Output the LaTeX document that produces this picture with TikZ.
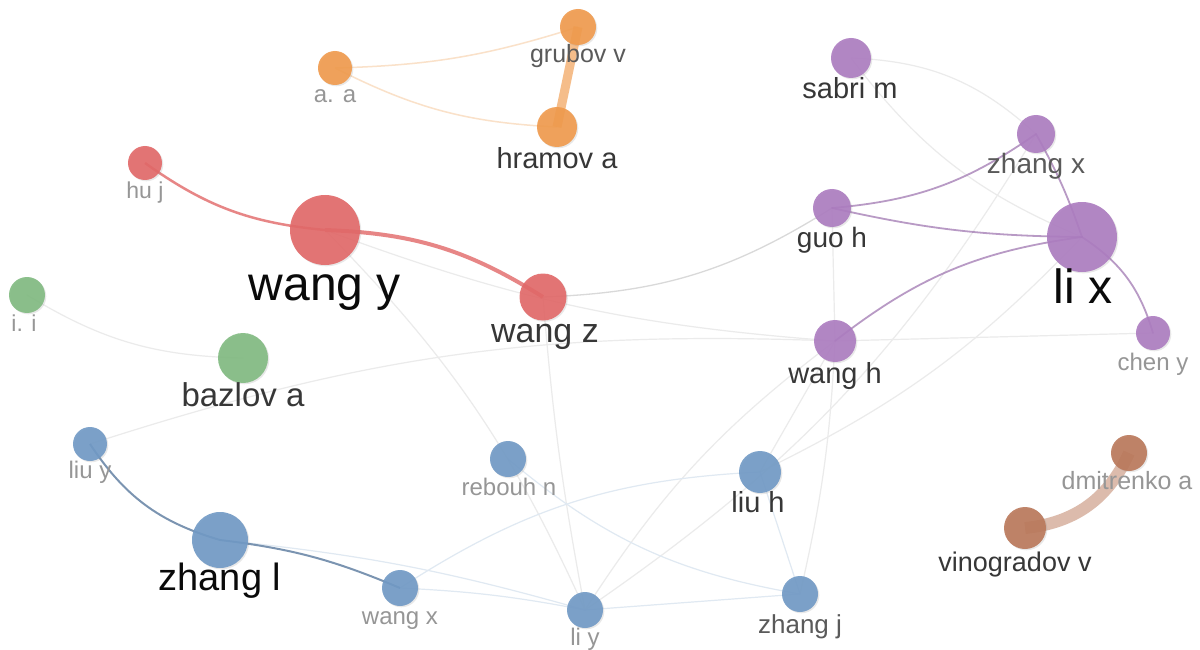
\documentclass[tikz,border=0pt]{standalone}
\usepackage{fontspec}
\newfontfamily\lblfont{Liberation Sans}
\usetikzlibrary{backgrounds,shadows}
\definecolor{cred}{RGB}{226,104,104}
\definecolor{cgreen}{RGB}{128,186,128}
\definecolor{cblue}{RGB}{112,153,197}
\definecolor{cpurple}{RGB}{172,124,192}
\definecolor{corange}{RGB}{240,154,76}
\definecolor{cbrown}{RGB}{186,120,90}
\definecolor{lbig}{RGB}{10,10,10}
\definecolor{lmid}{RGB}{55,55,55}
\definecolor{lgray}{RGB}{90,90,90}
\definecolor{llight}{RGB}{150,150,150}
\tikzset{
  vnode/.style={circle, inner sep=0pt, minimum size=#1, draw=none, fill opacity=0.9,
    drop shadow={shadow xshift=1.3pt, shadow yshift=-1.3pt, opacity=0.18}},
  lbl/.style={anchor=base, inner sep=0pt},
  fsz/.style={font=\lblfont\fontsize{#1}{#1}\selectfont},
  faint/.style={line width=1.2pt, draw=gray!16, line cap=round},
  faintb/.style={line width=1.2pt, draw=cblue!22, line cap=round},
  pedge/.style={line width=1.8pt, draw=cpurple!90!black, draw opacity=0.7, line cap=round},
}
\begin{document}
\begin{tikzpicture}[x=1pt,y=-1pt]
\useasboundingbox (0,0) rectangle (1200,650);
% ---- nodes ----
\node[vnode=34pt, fill=corange] (aa) at (335,68) {};
\node[vnode=36pt, fill=corange] (gv) at (578,27) {};
\node[vnode=40pt, fill=corange] (ha) at (557,127) {};
\node[vnode=34pt, fill=cred] (hj) at (145,163) {};
\node[vnode=70pt, fill=cred] (wy) at (325,230) {};
\node[vnode=47pt, fill=cred] (wz) at (543,297) {};
\node[vnode=36pt, fill=cgreen] (ii) at (27,295) {};
\node[vnode=50pt, fill=cgreen] (ba) at (243,358) {};
\node[vnode=34pt, fill=cblue] (ly) at (90,444) {};
\node[vnode=56pt, fill=cblue] (zl) at (220,540) {};
\node[vnode=36pt, fill=cblue] (wx) at (400,588) {};
\node[vnode=36pt, fill=cblue] (liy) at (585,610) {};
\node[vnode=36pt, fill=cblue] (rn) at (508,459) {};
\node[vnode=42pt, fill=cblue] (lh) at (760,472) {};
\node[vnode=36pt, fill=cblue] (zj) at (800,594) {};
\node[vnode=40pt, fill=cpurple] (sm) at (851,58) {};
\node[vnode=38pt, fill=cpurple] (zx) at (1036,134) {};
\node[vnode=38pt, fill=cpurple] (gh) at (832,208) {};
\node[vnode=70pt, fill=cpurple] (lx) at (1082,237) {};
\node[vnode=42pt, fill=cpurple] (wh) at (835,341) {};
\node[vnode=34pt, fill=cpurple] (cy) at (1153,333) {};
\node[vnode=36pt, fill=cbrown] (da) at (1129,453) {};
\node[vnode=42pt, fill=cbrown] (vv) at (1025,528) {};
% ---- labels ----
\node[lbl, fsz=24, text=llight] (aaL) at (335,103) {a. a};
\node[lbl, fsz=25, text=lgray] (gvL) at (578,63) {grubov v};
\node[lbl, fsz=29, text=lmid] (haL) at (557,168) {hramov a};
\node[lbl, fsz=23, text=llight] (hjL) at (145,198) {hu j};
\node[lbl, fsz=48, text=lbig] (wyL) at (325,300) {wang y};
\node[lbl, fsz=34, text=lmid] (wzL) at (545,342) {wang z};
\node[lbl, fsz=23, text=llight] (iiL) at (24,331) {i. i};
\node[lbl, fsz=33, text=lmid] (baL) at (243,406) {bazlov a};
\node[lbl, fsz=24, text=llight] (lyL) at (90,478) {liu y};
\node[lbl, fsz=38, text=lbig] (zlL) at (220,590) {zhang l};
\node[lbl, fsz=24, text=llight] (wxL) at (400,624) {wang x};
\node[lbl, fsz=24, text=llight] (liyL) at (585,645) {li y};
\node[lbl, fsz=24, text=llight] (rnL) at (509,495) {rebouh n};
\node[lbl, fsz=29, text=lmid] (lhL) at (758,512) {liu h};
\node[lbl, fsz=26, text=lgray] (zjL) at (800,633) {zhang j};
\node[lbl, fsz=29, text=lmid] (smL) at (850,99) {sabri m};
\node[lbl, fsz=28, text=lgray] (zxL) at (1036,174) {zhang x};
\node[lbl, fsz=28, text=lmid] (ghL) at (832,247) {guo h};
\node[lbl, fsz=48, text=lbig] (lxL) at (1083,303) {li x};
\node[lbl, fsz=29, text=lmid] (whL) at (835,383) {wang h};
\node[lbl, fsz=24, text=llight] (cyL) at (1153,370) {chen y};
\node[lbl, fsz=25, text=llight] (daL) at (1127,489) {dmitrenko a};
\node[lbl, fsz=27, text=lmid] (vvL) at (1015,571) {vinogradov v};
% ---- edges ----
\begin{pgfonlayer}{background}
\fill[white] (0,0) rectangle (1200,650);
% faint cross-cluster links
\draw[faint] (ii.center) to[bend right=15] (ba.center);
\draw[faint] (ly.center) to[bend left=10] (wh.center);
\draw[faint] (wh.center) -- (cy.center);
\draw[faint] (wy.center) to[bend right=8] (wh.center);
\draw[faint] (wy.center) to[bend left=10] (liy.center);
\draw[faint] (wz.center) to[bend right=3] (liy.center);
\draw[line width=1.3pt, draw=gray!30, line cap=round] (wz.center) to[bend right=15] (gh.center);
\draw[faint] (gh.center) -- (wh.center);
\draw[faint] (wh.center) to[bend left=5] (zj.center);
\draw[faint] (wh.center) -- (lh.center);
\draw[faint] (wh.center) to[bend right=10] (liy.center);
\draw[faint] (liy.center) to[bend right=12] (zx.center);
\draw[faint] (lh.center) to[bend right=10] (lx.center);
\draw[faint] (sm.center) to[bend left=20] (zx.center);
\draw[faint] (sm.center) to[bend right=15] (lx.center);
% blue cluster
\draw[faintb] (zl.center) to[bend left=5] (liy.center);
\draw[faintb] (wx.center) to[bend left=4] (liy.center);
\draw[faintb] (liy.center) -- (zj.center);
\draw[faintb] (wx.center) to[bend left=15] (lh.center);
\draw[faintb] (rn.center) to[bend right=15] (zj.center);
\draw[faintb] (lh.center) -- (zj.center);
\draw[line width=2pt, draw=cblue!80!black, draw opacity=0.8] (ly.center) to[bend right=20] (zl.center);
\draw[line width=2pt, draw=cblue!80!black, draw opacity=0.8] (zl.center) to[bend left=8] (wx.center);
% orange cluster
\draw[line width=1.5pt, draw=corange!30] (aa.center) to[bend right=8] (gv.center);
\draw[line width=1.5pt, draw=corange!30] (aa.center) to[bend right=12] (ha.center);
\draw[line width=9pt, draw=corange, draw opacity=0.65] (gv.center) -- (ha.center);
% red cluster
\draw[line width=2.5pt, draw=cred, draw opacity=0.8] (hj.center) to[bend right=15] (wy.center);
\draw[line width=4pt, draw=cred, draw opacity=0.8] (wy.center) to[bend left=15] (wz.center);
% purple cluster
\draw[pedge] (gh.center) to[bend right=15] (zx.center);
\draw[pedge] (zx.center) to[bend left=5] (lx.center);
\draw[pedge] (gh.center) to[bend right=6] (lx.center);
\draw[pedge] (wh.center) to[bend left=15] (lx.center);
\draw[pedge] (lx.center) to[bend left=20] (cy.center);
% brown cluster
\draw[line width=12pt, draw=cbrown, draw opacity=0.5] (vv.center) to[bend right=30] (da.center);
\end{pgfonlayer}
\end{tikzpicture}
\end{document}
